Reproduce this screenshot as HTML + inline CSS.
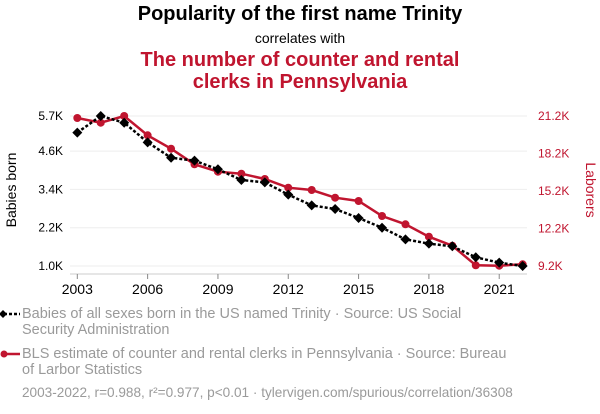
<!DOCTYPE html>
<html><head><meta charset="utf-8"><style>
body{margin:0;background:#fff;font-family:"Liberation Sans",sans-serif}
#wrap{position:relative;width:600px;height:414px;overflow:hidden}
.t{position:absolute;left:0;width:600px;text-align:center}
.leg{position:absolute;left:22px;color:#9a9a9a;font-size:14.5px;line-height:16px;width:500px}
</style></head><body>
<div id="wrap">
<div class="t" style="top:3px;font-size:20px;font-weight:bold;color:#000">Popularity of the first name Trinity</div>
<div class="t" style="top:30px;font-size:14px;color:#000">correlates with</div>
<div class="t" style="top:49px;font-size:20px;font-weight:bold;color:#c0152f;line-height:22px">The number of counter and rental<br>clerks in Pennsylvania</div>
<svg id="svg" width="600" height="414" style="position:absolute;left:0;top:0"></svg>
<div class="leg" style="top:306px">Babies of all sexes born in the US named Trinity · Source: US Social<br>Security Administration</div>
<div class="leg" style="top:346px">BLS estimate of counter and rental clerks in Pennsylvania · Source: Bureau<br>of Larbor Statistics</div>
<div class="leg" style="top:385px;width:580px;font-size:13.6px">2003-2022, r=0.988, r²=0.977, p&lt;0.01 · tylervigen.com/spurious/correlation/36308</div>
</div>
<script>
const years=[2003,2004,2005,2006,2007,2008,2009,2010,2011,2012,2013,2014,2015,2016,2017,2018,2019,2020,2021,2022];
const babies=[5180,5700,5490,4875,4393,4300,4030,3695,3620,3235,2900,2786,2504,2200,1836,1700,1617,1273,1104,1000];
const clerks=[21040,20664,21200,19656,18584,17336,16744,16584,16160,15464,15280,14664,14400,13200,12536,11544,10824,9256,9224,9336];
const leftTicks=[1000,2200,3400,4600,5700];
const leftLabels=["1.0K","2.2K","3.4K","4.6K","5.7K"];
const rightTicks=[9200,12200,15200,18200,21200];
const rightLabels=["9.2K","12.2K","15.2K","18.2K","21.2K"];
const xTicks=[2003,2006,2009,2012,2015,2018,2021];
const NS="http://www.w3.org/2000/svg";
const svg=document.getElementById('svg');
const x=v=>77.3+(v-2003)*23.44;
const yL=v=>266-(v-1000)/4700*150;
const yR=v=>266-(v-9200)/12000*150;
function mk(t,a){const e=document.createElementNS(NS,t);for(const k in a)e.setAttribute(k,a[k]);svg.appendChild(e);return e;}
leftTicks.forEach((v,i)=>{
  const g=mk('line',{x1:70,x2:527,y1:yL(v),y2:yL(v),stroke:'#eee','stroke-width':1});
  
  
  const t=mk('text',{x:63,y:yL(v)+4,'text-anchor':'end','font-size':12,fill:'#000'});t.textContent=leftLabels[i];
  
  
});
rightTicks.forEach((v,i)=>{
  const t=mk('text',{x:538,y:yR(v)+4,'font-size':12,fill:'#c0152f'});t.textContent=rightLabels[i];
  
  
});
mk('line',{x1:70,x2:527,y1:274,y2:274,stroke:'#ccc'});
xTicks.forEach(v=>{
  mk('line',{x1:x(v),x2:x(v),y1:274,y2:279,stroke:'#888'});
  const t=mk('text',{x:x(v),y:294,'text-anchor':'middle','font-size':14,fill:'#000'});t.textContent=v;
  
  
});
let a=mk('text',{x:0,y:0,transform:'translate(16,190) rotate(-90)','text-anchor':'middle','font-size':14,fill:'#000'});a.textContent='Babies born';


a=mk('text',{x:0,y:0,transform:'translate(586,190) rotate(90)','text-anchor':'middle','font-size':14,fill:'#c0152f'});a.textContent='Laborers';


const rl=mk('polyline',{points:years.map((y,i)=>x(y)+','+yR(clerks[i])).join(' '),fill:'none',stroke:'#c0152f','stroke-width':2.5});


const bl=mk('polyline',{points:years.map((y,i)=>x(y)+','+yL(babies[i])).join(' '),fill:'none',stroke:'#000','stroke-width':2.5,'stroke-dasharray':'3,2'});


years.forEach((y,i)=>{
  const c=mk('circle',{cx:x(y),cy:yR(clerks[i]),r:4,fill:'#c0152f'});
  
  
});
years.forEach((y,i)=>{
  const cx=x(y),cy=yL(babies[i]);
  const d=mk('polygon',{points:`${cx},${cy-5} ${cx+5},${cy} ${cx},${cy+5} ${cx-5},${cy}`,fill:'#000'});
  
  
});
mk('line',{x1:4,x2:20,y1:314,y2:314,stroke:'#000','stroke-width':2.5,'stroke-dasharray':'3,2'});
mk('polygon',{points:'3,310 7,314 3,318 -1,314',fill:'#000'});
mk('line',{x1:4,x2:20,y1:354,y2:354,stroke:'#c0152f','stroke-width':2.5});
mk('circle',{cx:4,cy:354,r:3.5,fill:'#c0152f'});
</script>
</body></html>
